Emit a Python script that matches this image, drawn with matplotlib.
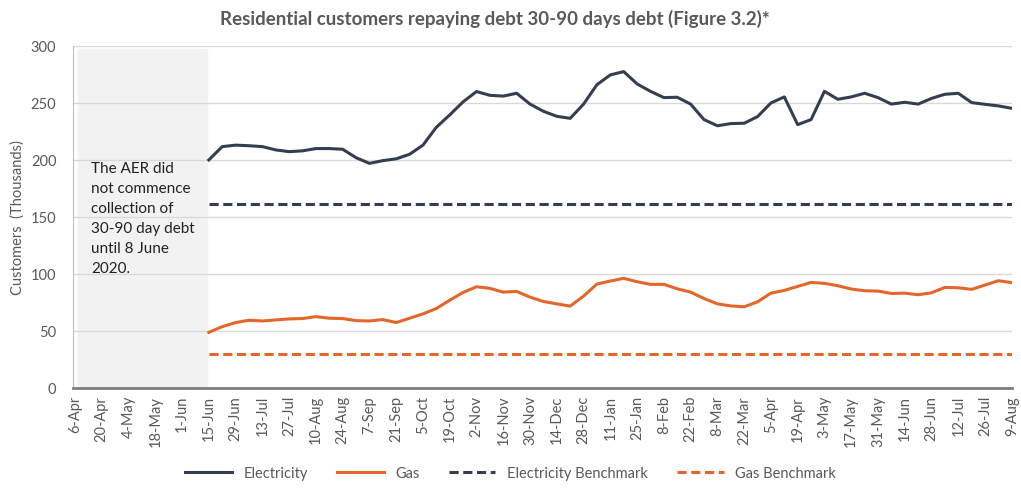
import numpy as np
import pandas as pd
import matplotlib.pyplot as plt

# weekly observations, 15-Jun-2020 .. 9-Aug-2021 (thousands of customers)
electricity = [200.0, 211.7, 213.0, 212.5, 211.7, 208.8, 207.3, 208.0, 210.0, 210.0,
               209.4, 202.0, 197.0, 199.4, 201.0, 205.0, 213.0, 228.7, 239.5, 251.0,
               260.0, 256.7, 256.0, 258.5, 249.0, 242.7, 238.3, 236.5, 249.0, 266.0,
               274.6, 277.5, 266.7, 260.2, 254.7, 255.0, 249.0, 235.4, 230.0, 231.9,
               232.2, 238.0, 250.0, 255.3, 231.0, 235.4, 260.2, 253.2, 255.3, 258.5,
               254.7, 249.0, 250.6, 249.0, 254.0, 257.6, 258.5, 250.3, 248.8, 247.4,
               245.3]
gas = [48.8, 53.8, 57.4, 59.4, 58.8, 59.7, 60.6, 60.9, 62.6, 61.2,
       60.9, 59.1, 58.8, 60.0, 57.4, 61.2, 65.0, 69.7, 77.0, 83.8,
       88.8, 87.4, 84.1, 84.7, 79.7, 75.9, 73.8, 71.8, 80.6, 91.2,
       93.8, 96.2, 93.2, 90.9, 90.9, 87.0, 84.1, 78.5, 73.8, 72.0,
       71.2, 75.6, 83.2, 85.6, 89.1, 92.6, 91.8, 89.7, 86.8, 85.3,
       85.0, 82.9, 83.2, 81.8, 83.5, 88.2, 87.9, 86.5, 90.3, 94.1,
       92.4]
electricity_benchmark = 161
gas_benchmark = 30

tick_labels = ["6-Apr", "20-Apr", "4-May", "18-May", "1-Jun", "15-Jun", "29-Jun",
               "13-Jul", "27-Jul", "10-Aug", "24-Aug", "7-Sep", "21-Sep", "5-Oct",
               "19-Oct", "2-Nov", "16-Nov", "30-Nov", "14-Dec", "28-Dec", "11-Jan",
               "25-Jan", "8-Feb", "22-Feb", "8-Mar", "22-Mar", "5-Apr", "19-Apr",
               "3-May", "17-May", "31-May", "14-Jun", "28-Jun", "12-Jul", "26-Jul",
               "9-Aug"]

note = "The AER did\nnot commence\ncollection of\n30-90 day debt\nuntil 8 June\n2020."

# week index: 6-Apr-2020 is week 0, data begins at week 10 (15-Jun)
start_week = 10
weeks = np.arange(start_week, start_week + len(electricity))
tick_pos = np.arange(0, 2 * len(tick_labels), 2)

navy = "#333f50"
orange = "#e4662a"
grey_text = "#595959"

plt.rcParams['font.family'] = ['Lato', 'DejaVu Sans']

fig = plt.figure(figsize=(10.21, 4.89), dpi=100)
ax = fig.add_axes([0.0715, 0.2045, 0.9195, 0.6995])

ax.axvspan(0.25, 9.9, ymin=0, ymax=0.99, color="#f2f2f2", zorder=0)
ax.text(1.2, 199, note, fontsize=11, color="#222222", va="top", ha="left",
        linespacing=1.55)

dash = (0, (3, 1.5))
ax.plot(weeks, electricity, color=navy, lw=2.2, label="Electricity", zorder=3)
ax.plot(weeks, gas, color=orange, lw=2.2, label="Gas", zorder=3)
ax.plot(weeks, [electricity_benchmark] * len(weeks), color=navy, lw=2.2,
        ls=dash, label="Electricity Benchmark", zorder=3)
ax.plot(weeks, [gas_benchmark] * len(weeks), color=orange, lw=2.2,
        ls=dash, label="Gas Benchmark", zorder=3)

ax.set_xlim(-0.15, 70)
ax.set_ylim(0, 300)
ax.set_yticks(range(0, 301, 50))
ax.set_xticks(tick_pos)
ax.set_xticklabels(tick_labels, rotation=90, fontsize=10.5, color=grey_text)
ax.tick_params(axis="y", labelsize=10.5, labelcolor=grey_text, length=0, pad=12)
ax.tick_params(axis="x", length=0, pad=5)
ax.grid(axis="y", color="#d9d9d9", lw=1)
ax.set_axisbelow(True)

for s in ["top", "right"]:
    ax.spines[s].set_visible(False)
ax.spines["left"].set_color("#bfbfbf")
ax.spines["bottom"].set_color("#7f7f7f")
ax.spines["bottom"].set_linewidth(2)

ax.set_ylabel("Customers  (Thousands)", fontsize=10.5, color=grey_text, labelpad=4)
fig.suptitle("Residential customers repaying debt 30-90 days debt (Figure 3.2)*",
             x=0.485, y=0.98, fontsize=13.5, fontweight="bold", color=grey_text)

leg = fig.legend(loc="lower center", ncol=4, frameon=False, fontsize=10.5,
                 bbox_to_anchor=(0.5, -0.01), handlelength=3.2, columnspacing=2.0)
for t in leg.get_texts():
    t.set_color(grey_text)

fig.savefig("out.png", dpi=100)
